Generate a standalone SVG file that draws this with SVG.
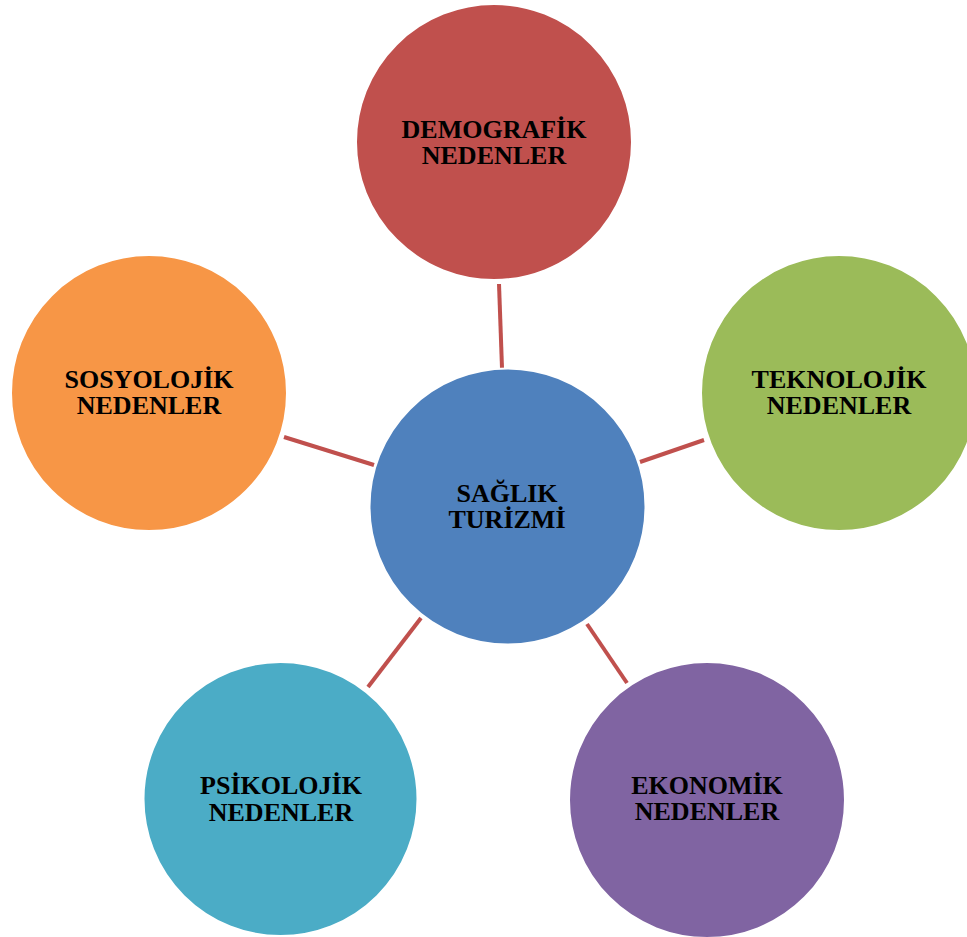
<svg xmlns="http://www.w3.org/2000/svg" width="967" height="937" viewBox="0 0 967 937">
<style>
.n{stroke:#ffffff;stroke-width:2}
.t{font-family:"Liberation Serif","Times New Roman",serif;font-weight:bold;font-size:26px;fill:#000;text-anchor:middle}
.c{stroke:#C0504D;stroke-width:4;stroke-linecap:butt;fill:none}
</style>
<rect width="967" height="937" fill="#ffffff"/>
<g id="connectors">
<line class="c" x1="499" y1="284" x2="502" y2="368"/>
<line class="c" x1="640" y1="462" x2="704" y2="440"/>
<line class="c" x1="284" y1="437" x2="374" y2="465"/>
<line class="c" x1="421" y1="618" x2="368" y2="687"/>
<line class="c" x1="587" y1="624" x2="627" y2="683"/>
</g>
<g id="demografik">
<circle class="n" cx="494" cy="142" r="138" fill="#C0504D"/>
<text class="t" x="494" y="138">DEMOGRAFİK</text>
<text class="t" x="494" y="164">NEDENLER</text>
</g>
<g id="teknolojik">
<circle class="n" cx="839" cy="393" r="138" fill="#9BBB59"/>
<text class="t" x="839" y="388">TEKNOLOJİK</text>
<text class="t" x="839" y="414">NEDENLER</text>
</g>
<g id="sosyolojik">
<circle class="n" cx="149" cy="393" r="138" fill="#F79646"/>
<text class="t" x="149" y="388">SOSYOLOJİK</text>
<text class="t" x="149" y="414">NEDENLER</text>
</g>
<g id="saglik">
<circle class="n" cx="507.5" cy="506.5" r="138" fill="#4F81BD"/>
<text class="t" x="507" y="502">SAĞLIK</text>
<text class="t" x="507" y="528">TURİZMİ</text>
</g>
<g id="psikolojik">
<circle class="n" cx="280.5" cy="799" r="137" fill="#4BACC6"/>
<text class="t" x="281" y="794">PSİKOLOJİK</text>
<text class="t" x="281" y="821">NEDENLER</text>
</g>
<g id="ekonomik">
<circle class="n" cx="707" cy="800" r="138" fill="#8064A2"/>
<text class="t" x="707" y="794">EKONOMİK</text>
<text class="t" x="707" y="820">NEDENLER</text>
</g>
</svg>
